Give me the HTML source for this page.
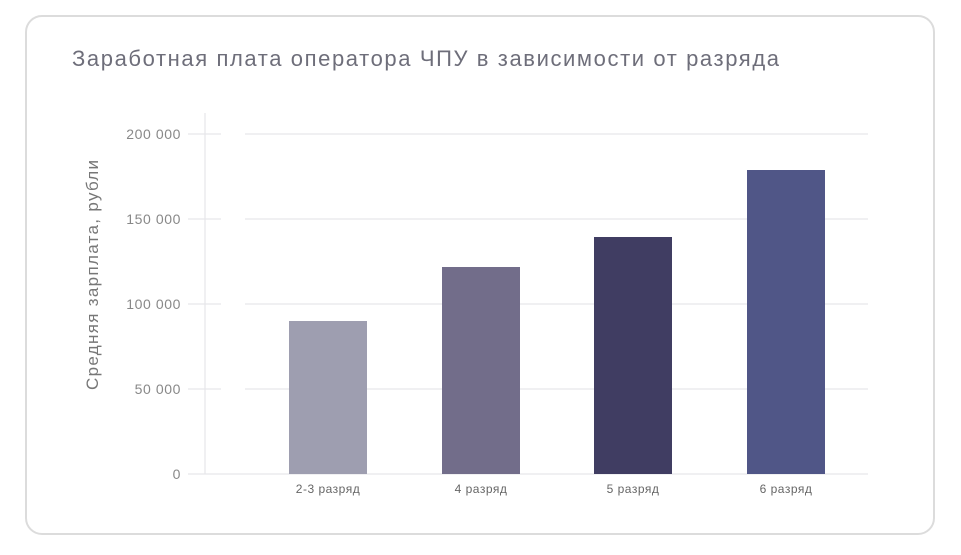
<!DOCTYPE html>
<html><head><meta charset="utf-8"><style>
body{margin:0;background:#fff;width:961px;height:550px;overflow:hidden}
</style></head><body>
<svg width="961" height="550" xmlns="http://www.w3.org/2000/svg" font-family="Liberation Sans, sans-serif">
<rect x="26" y="16" width="908" height="518" rx="16" fill="#fff" stroke="#dcdcdc" stroke-width="2"/>
<text x="72" y="66" font-size="22" fill="#6e6e7a" textLength="707" lengthAdjust="spacing">Заработная плата оператора ЧПУ в зависимости от разряда</text>
<g stroke="#e6e6ea" stroke-width="1.2">
<line x1="188" y1="134" x2="221" y2="134"/><line x1="245" y1="134" x2="868" y2="134"/>
<line x1="188" y1="219" x2="221" y2="219"/><line x1="245" y1="219" x2="868" y2="219"/>
<line x1="188" y1="304" x2="221" y2="304"/><line x1="245" y1="304" x2="868" y2="304"/>
<line x1="188" y1="389" x2="221" y2="389"/><line x1="245" y1="389" x2="868" y2="389"/>
<line x1="188" y1="474" x2="868" y2="474"/>
<line x1="205" y1="113" x2="205" y2="474"/>
</g>
<g font-size="14" fill="#888" text-anchor="end" letter-spacing="0.6">
<text x="181" y="139">200 000</text><text x="181" y="224">150 000</text><text x="181" y="309">100 000</text><text x="181" y="394">50 000</text><text x="181" y="479">0</text>
</g>
<text transform="translate(98,275) rotate(-90)" font-size="17" fill="#777" text-anchor="middle" textLength="230" lengthAdjust="spacing">Средняя зарплата, рубли</text>
<rect x="289" y="321" width="78" height="153" fill="#9e9eb0"/>
<rect x="442" y="267" width="78" height="207" fill="#726d8a"/>
<rect x="594" y="237" width="78" height="237" fill="#403d62"/>
<rect x="747" y="170" width="78" height="304" fill="#505687"/>
<g font-size="12" fill="#666" text-anchor="middle" letter-spacing="0.5">
<text x="328" y="493">2-3 разряд</text><text x="481" y="493">4 разряд</text><text x="633" y="493">5 разряд</text><text x="786" y="493">6 разряд</text>
</g>
</svg>
</body></html>
